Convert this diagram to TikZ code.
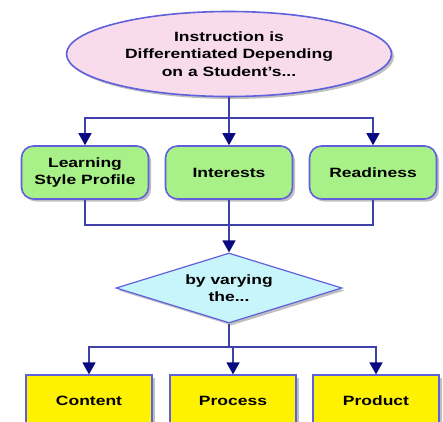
\documentclass[tikz,border=0pt]{standalone}
\usepackage{fontspec}
\setmainfont{Liberation Sans}[FakeStretch=1.3]
\usetikzlibrary{shapes.geometric,arrows.meta,shadows}
\definecolor{edgeblue}{RGB}{96,96,220}
\definecolor{linkblue}{RGB}{64,64,170}
\definecolor{tipblue}{RGB}{10,10,128}
\definecolor{pinkfill}{RGB}{248,220,236}
\definecolor{greenfill}{RGB}{168,240,136}
\definecolor{cyanfill}{RGB}{200,245,252}
\begin{document}
\begin{tikzpicture}[x=1bp,y=-1bp,
  txt/.style={font=\bfseries\fontsize{13.5}{17.5}\selectfont,align=center,inner sep=0pt},
  shade/.style={drop shadow={shadow xshift=2.5bp,shadow yshift=-2.5bp,fill=black!50}},
  gbox/.style={txt,shade,draw=edgeblue,line width=1.6bp,fill=greenfill,rounded corners=12bp,minimum width=127bp,minimum height=53bp},
  ybox/.style={txt,shade,draw=edgeblue,line width=1.2bp,fill=yellow,minimum width=126bp,minimum height=52bp},
  link/.style={draw=linkblue,line width=1.4bp},
  arrow/.style={link,-{Triangle[length=12bp,width=13bp,fill=tipblue,color=tipblue]}}]
\useasboundingbox (0,0) rectangle (443,421);
\node[txt,shade,ellipse,draw=edgeblue,line width=1.6bp,fill=pinkfill,minimum width=325bp,minimum height=85bp] (top) at (229,54) {Instruction is\\Differentiated Depending\\on a Student's...};
\node[gbox] (style) at (85,172.5) {Learning\\Style Profile};
\node[gbox] (interest) at (229,172.5) {Interests};
\node[gbox] (ready) at (373,172.5) {Readiness};
\node[txt,shade,diamond,aspect=3.2,draw=edgeblue,line width=1.2bp,fill=cyanfill,minimum width=226bp,minimum height=70bp] (vary) at (229,288) {by varying\\the...};
\node[ybox] (content) at (89,401) {Content};
\node[ybox] (process) at (233,401) {Process};
\node[ybox] (product) at (376,401) {Product};
\coordinate (split1) at (229,118);
\coordinate (join1) at (229,225);
\coordinate (split2) at (229,347);
\draw[link] (top.south) -- (split1);
\foreach \n in {style,interest,ready}
  \draw[arrow] (split1) -| (\n.north);
\foreach \n in {style,interest,ready}
  \draw[link] (\n.south) |- (join1);
\draw[arrow] (join1) -- (vary.north);
\draw[link] (vary.south) -- (split2);
\foreach \n in {content,process,product}
  \draw[arrow] (split2) -| (\n.north);
\end{tikzpicture}
\end{document}
